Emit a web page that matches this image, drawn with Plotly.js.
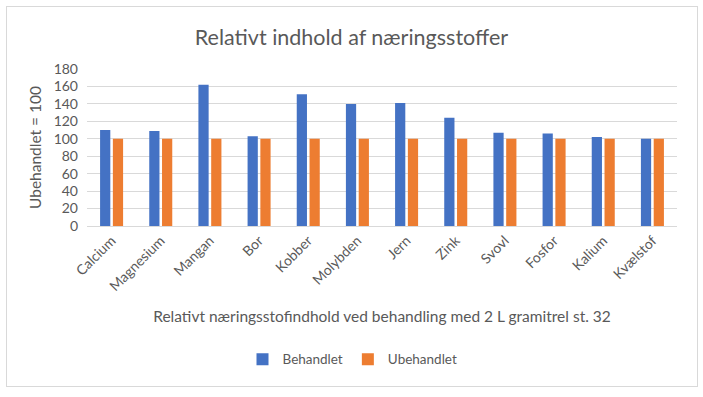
<!DOCTYPE html>
<html>
<head>
<meta charset="utf-8">
<script src="https://cdn.plot.ly/plotly-3.0.1.min.js"></script>
<style>
html,body{margin:0;padding:0;background:#fff;}
#wrap{position:relative;width:703px;height:397px;}
#chart{width:703px;height:397px;}
#frame{position:absolute;left:6px;top:6px;width:690px;height:379px;border:1px solid #d9d9d9;pointer-events:none;}
</style>
</head>
<body>
<div id="wrap"><div id="chart"></div><div id="frame"></div></div>
<script>
var categories = ["Calcium","Magnesium","Mangan","Bor","Kobber","Molybden","Jern","Zink","Svovl","Fosfor","Kalium","Kvælstof"];
var behandlet = [110, 109, 162, 103, 151, 140, 141, 124, 107, 106, 102, 100];
var ubehandlet = [100, 100, 100, 100, 100, 100, 100, 100, 100, 100, 100, 100];
var yTicks = [0, 20, 40, 60, 80, 100, 120, 140, 160, 180];

var FONT = "Lato, 'Liberation Sans', sans-serif";
var GREY = "#595959";

var data = [
  {type:"bar", name:"Behandlet", x:categories, y:behandlet, marker:{color:"#4472C4"}},
  {type:"bar", name:"Ubehandlet", x:categories, y:ubehandlet, marker:{color:"#ED7D31"}}
];

var layout = {
  width:703, height:397,
  margin:{l:87, r:26, t:69, b:171},
  paper_bgcolor:"rgba(0,0,0,0)", plot_bgcolor:"#fff",
  font:{family:FONT, color:GREY},
  title:{text:"Relativt indhold af næringsstoffer", font:{size:21.5, color:GREY, family:FONT}, x:0.5, xref:"container", y:0.905, yref:"container", yanchor:"middle"},
  barmode:"group", bargap:0.48, bargroupgap:0.2,
  xaxis:{
    tickangle:-45, tickfont:{size:14, color:GREY},
    showgrid:false, showline:true, linecolor:"#d9d9d9", linewidth:1,
    ticks:"",
    title:{text:"Relativt næringsstofindhold ved behandling med 2 L gramitrel st. 32", font:{size:15.5, color:GREY}, standoff:18}
  },
  yaxis:{
    range:[0,180], tickvals:yTicks, tickfont:{size:14, color:GREY},
    showgrid:true, gridcolor:"#d9d9d9", zeroline:false, showline:false,
    ticks:"", ticklabelstandoff:8,
    title:{text:"Ubehandlet = 100", font:{size:15.5, color:GREY}, standoff:8}
  },
  showlegend:true,
  legend:{orientation:"h", x:0.45, xanchor:"center", y:-0.85, yanchor:"middle", font:{size:13.5, color:GREY}, itemwidth:30, traceorder:"normal"}
};

Plotly.newPlot("chart", data, layout, {displayModeBar:false, staticPlot:true});
</script>
</body>
</html>
